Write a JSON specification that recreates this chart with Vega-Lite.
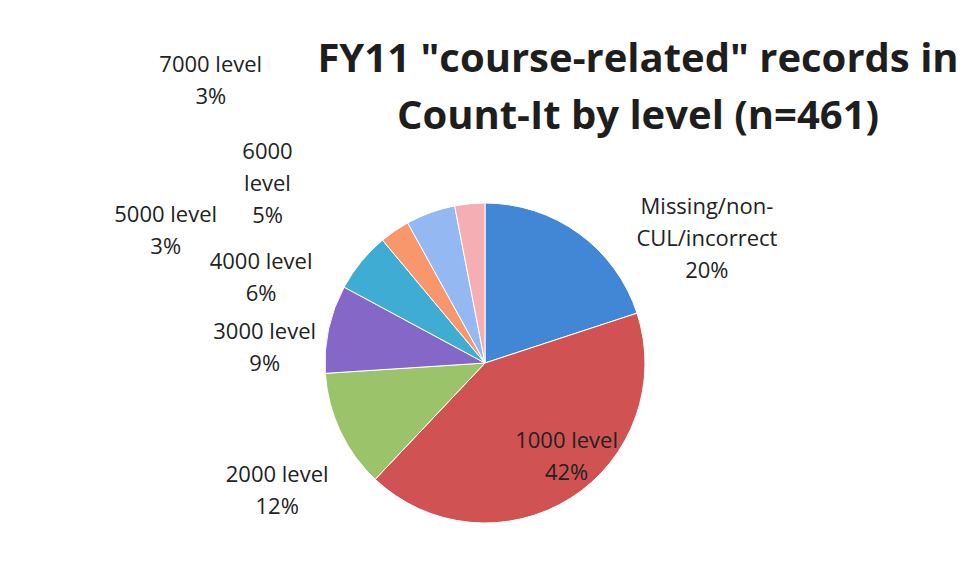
{
  "$schema": "https://vega.github.io/schema/vega-lite/v6.json",
  "autosize": "none",
  "width": 958,
  "height": 320,
  "padding": {"left": 6, "top": 203, "right": 0, "bottom": 59},
  "background": "white",
  "title": {
    "text": ["FY11 \"course-related\" records in", "Count-It by level (n=461)"],
    "font": "Open Sans",
    "fontSize": 40,
    "fontWeight": "bold",
    "color": "#1e1e1e",
    "anchor": "middle",
    "frame": "group",
    "dx": 153,
    "offset": -83,
    "lineHeight": 57
  },
  "data": {
    "values": [
      {"idx": 0, "level": "Missing/non-CUL/incorrect", "count": 92, "label": "Missing/non-\nCUL/incorrect\n20%"},
      {"idx": 1, "level": "1000 level", "count": 194, "label": "1000 level\n42%"},
      {"idx": 2, "level": "2000 level", "count": 55, "label": "2000 level\n12%"},
      {"idx": 3, "level": "3000 level", "count": 41, "label": "3000 level\n9%"},
      {"idx": 4, "level": "4000 level", "count": 28, "label": "4000 level\n6%"},
      {"idx": 5, "level": "5000 level", "count": 14, "label": "5000 level\n3%"},
      {"idx": 6, "level": "6000 level", "count": 23, "label": "6000\nlevel\n5%"},
      {"idx": 7, "level": "7000 level", "count": 14, "label": "7000 level\n3%"}
    ]
  },
  "encoding": {
    "theta": {"field": "count", "type": "quantitative", "stack": true},
    "order": {"field": "idx", "type": "quantitative"}
  },
  "layer": [
    {
      "mark": {"type": "arc", "outerRadius": 160, "stroke": "#ffffff", "strokeWidth": 1},
      "encoding": {
        "color": {
          "field": "level",
          "type": "nominal",
          "scale": {
            "domain": ["Missing/non-CUL/incorrect", "1000 level", "2000 level", "3000 level", "4000 level", "5000 level", "6000 level", "7000 level"],
            "range": ["#4286D6", "#D05252", "#9BC46A", "#8467C6", "#3FADD3", "#F7976B", "#93B8F2", "#F4AEB4"]
          },
          "legend": null
        }
      }
    },
    {
      "mark": {
        "type": "text",
        "radius": {"expr": "datum.idx === 1 ? 113 : 160"},
        "dx": {"expr": "[128, 21, -63, -64, -100, -229, -163, -259][datum.idx]"},
        "dy": {"expr": "[-26, -17, 44, 3, 0, -16, -61, -139][datum.idx]"},
        "font": "Open Sans",
        "fontSize": 22,
        "lineBreak": "\n",
        "lineHeight": 32,
        "color": "#222222",
        "align": "center",
        "baseline": "middle"
      },
      "encoding": {
        "detail": {"field": "level", "type": "nominal"},
        "text": {"field": "label", "type": "nominal"}
      }
    }
  ],
  "config": {"view": {"stroke": null}}
}
